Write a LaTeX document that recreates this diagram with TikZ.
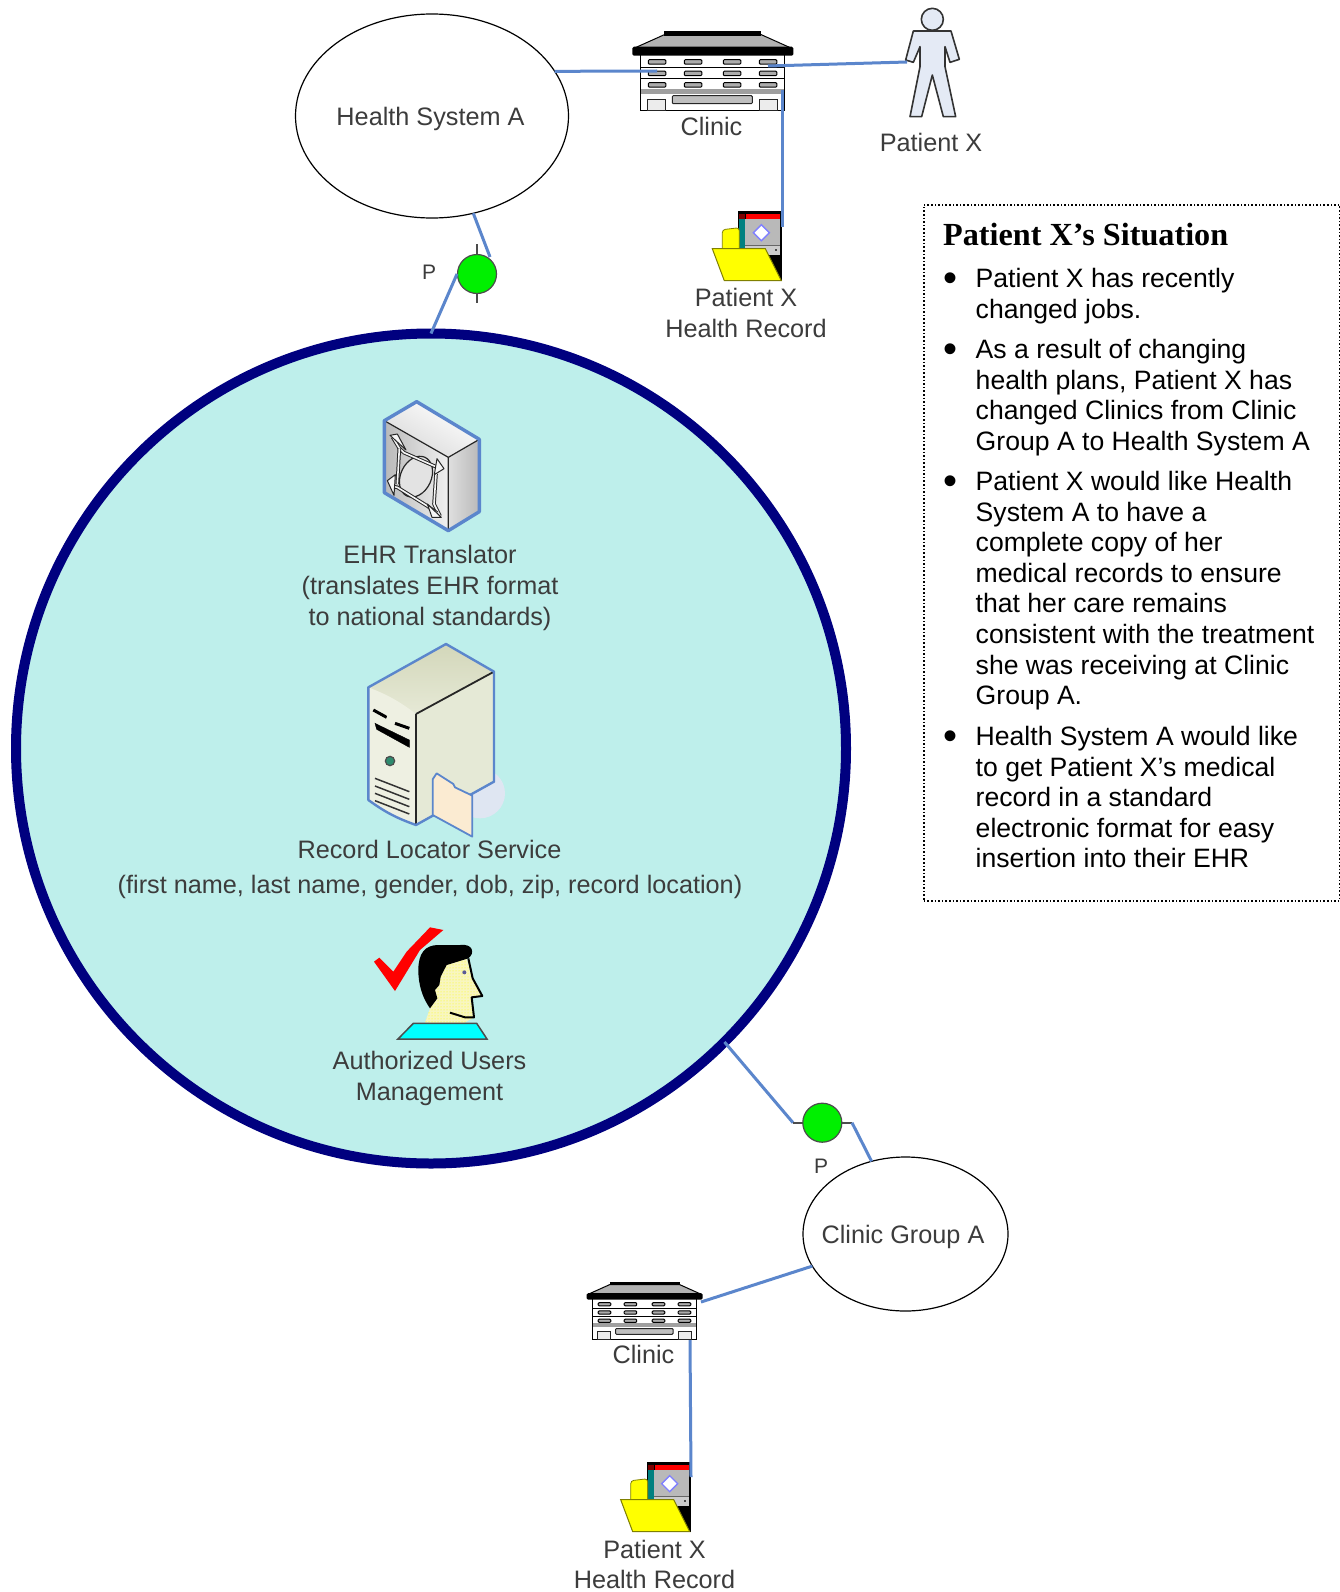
\documentclass[tikz,border=0pt]{standalone}
\usepackage{fontspec}
\setmainfont{Liberation Sans}
\newfontfamily\timesfont{Liberation Serif}
\usetikzlibrary{shapes.geometric,patterns}
\definecolor{conn}{HTML}{5B86CC}
\definecolor{lab}{HTML}{3C3C3C}
\definecolor{aqua}{HTML}{BEEFEB}
\definecolor{navy2}{HTML}{00007F}
\definecolor{ball}{HTML}{00F000}
\definecolor{yel}{HTML}{FFFF00}
\definecolor{cya}{HTML}{00FFFF}
\definecolor{tealx}{HTML}{008080}
\definecolor{redx}{HTML}{FF0000}
\definecolor{drk}{HTML}{7F0000}
\definecolor{olv}{HTML}{808000}
\definecolor{personf}{HTML}{E4EAF5}
\definecolor{srvtop}{HTML}{D3D7BA}
\definecolor{srvtopb}{HTML}{E6E9D6}
\definecolor{srvfront}{HTML}{EEF0E2}
\definecolor{srvright}{HTML}{E5E9D6}
\definecolor{srvshadow}{HTML}{DFE6F2}
\definecolor{fldr}{HTML}{FBEBD2}
\definecolor{facey}{HTML}{F8F6C0}
\definecolor{irisx}{HTML}{5A5A96}
\definecolor{ledx}{HTML}{2E8B6E}
\tikzset{
  x=1pt,y=-1pt,
  connector/.style={draw=conn,line width=3pt},
  stub/.style={draw=black!70,line width=1.6pt},
  lbl/.style={font=\fontsize{25.25}{30.6}\selectfont,text=lab,align=center,inner sep=0pt},
  bodytext/.style={font=\fontsize{26.6}{30.6}\selectfont,text=black,align=left,inner sep=0pt,anchor=north west},
  bulletmark/.style={font=\fontsize{40}{40}\selectfont,text=black,inner sep=0pt},
  bubble/.style={ellipse,draw=black,line width=1.2pt,inner sep=0pt,outer sep=0pt},
  portball/.style={circle,draw=black!70,line width=1.2pt,fill=ball,minimum size=39pt,inner sep=0pt,outer sep=0pt},
  iconbox/.style={inner sep=0pt,outer sep=0pt,anchor=north west,rectangle},
  fanarm/.style={draw=black!85,double=gray!8,double distance=1.6pt,line width=1pt,line join=round},
  fanhead/.style={draw=black!85,fill=gray!8,line width=1pt,line join=round},
  pics/clinicicon/.style={code={
    \fill[white] (8,24) rectangle (152,80);
    \fill[gray!75] (8,58) rectangle (152,63);
    \draw[black,line width=1.2pt] (8,24) -- (8,80) -- (152,80) -- (152,24);
    \draw[black,line width=1pt] (8,37) -- (152,37) (8,48) -- (152,48);
    \foreach \wy in {29,40.5,52}{
      \foreach \wx in {16,52,91,127}{
        \filldraw[fill=gray!65,draw=black,line width=1pt,rounded corners=1pt] (\wx,\wy) rectangle ++(17.5,4.5);
      }
    }
    \filldraw[fill=gray!15,draw=black!85,line width=1pt] (15,69) rectangle (33,80);
    \filldraw[fill=gray!15,draw=black!85,line width=1pt] (127,69) rectangle (145,80);
    \filldraw[fill=gray!50,draw=black!85,line width=1pt,rounded corners=1pt] (40,65) rectangle (120,73);
    \filldraw[fill=gray!60,draw=black,line width=1pt] (32,4) -- (129,4) -- (158,17) -- (3,17) -- cycle;
    \fill[black] (32,0) rectangle (129,5);
    \fill[black,rounded corners=1.5pt] (0,16) rectangle (161,25);
  }},
  pics/foldericon/.style={code={
    \fill[black] (26,0) rectangle (70,70);
    \fill[redx] (34,3) rectangle (68,8);
    \fill[drk] (27,3) rectangle (33,8);
    \fill[tealx] (27,8) rectangle (33,38);
    \fill[gray!55] (33,8) rectangle (68,34);
    \fill[gray!40] (33,35) rectangle (68,44);
    \draw[black!60,line width=.6pt] (33,34.5) -- (68,34.5);
    \fill[black!70] (63,38) rectangle (65,40);
    \filldraw[fill=white,draw=cya!50!magenta,line width=1.4pt] (49,14) -- (57,22) -- (49,30) -- (41,22) -- cycle;
    \filldraw[fill=yel,draw=olv,line width=.8pt,rounded corners=3pt] (10,38) -- (10,19) -- (27,17) -- (27,38);
    \filldraw[fill=yel,draw=olv,line width=1pt] (0,38) -- (53,38) -- (69,70) -- (12,70) -- cycle;
  }},
}
\begin{document}
\begin{tikzpicture}
\useasboundingbox (0,0) rectangle (1340,1592);
\fill[white] (0,0) rectangle (1340,1592);

% big circle
\node[circle,draw=navy2,fill=aqua,line width=10pt,minimum size=830pt,inner sep=0pt,outer sep=0pt] (bigc) at (431,748.5) {};
% bubbles
\node[bubble,minimum width=273pt,minimum height=204pt] (hs) at (432,116) {};
\node[bubble,minimum width=205pt,minimum height=154pt] (cg) at (905.5,1234) {};

% clinic icons
\pic at (632.3,30.7) {clinicicon};
\node[iconbox,minimum width=161pt,minimum height=81pt] (clinicA) at (632.3,30.7) {};
\pic[scale=.72] at (586.7,1281.7) {clinicicon};
\node[iconbox,minimum width=116pt,minimum height=58pt] (clinicB) at (586.7,1281.7) {};

% folder icons
\pic at (712.3,210.7) {foldericon};
\node[iconbox,minimum width=70pt,minimum height=70pt] (folderA) at (712.3,210.7) {};
\pic at (620.7,1461.7) {foldericon};
\node[iconbox,minimum width=70pt,minimum height=70pt] (folderB) at (620.7,1461.7) {};

% patient figure
\begin{scope}[shift={(600,0)},scale=1/3]
\filldraw[fill=personf,draw=black!80,line width=1.6pt,line join=round]
  (940,93) -- (1053,93) -- (1078,178) -- (1050,187) -- (1035,140) -- (1035,200) -- (1067,350) -- (1030,350) -- (997,225) -- (965,350) -- (930,350) -- (960,200) -- (960,140) -- (940,187) -- (917,180) -- cycle;
\filldraw[fill=personf,draw=black!80,line width=1.6pt] (997,58) circle (33);
\end{scope}
\node[iconbox,minimum width=54pt,minimum height=110pt] (patient) at (905,8) {};

% translator icon
\begin{scope}[shift={(340,380)},scale=1/3]
\shade[top color=white,bottom color=gray!30,shading angle=-30] (133,122) -- (230,65) -- (418,178) -- (325,232) -- cycle;
\shade[left color=gray!55,right color=gray!12] (133,122) -- (325,232) -- (325,452) -- (133,338) -- cycle;
\shade[left color=gray!25,right color=gray!55] (325,232) -- (418,178) -- (418,395) -- (325,452) -- cycle;
\draw[black!85,line width=1.2pt] (133,122) -- (325,232) -- (325,452) (325,232) -- (418,178);
\draw[conn,line width=3.4pt,line join=round] (230,65) -- (418,178) -- (418,395) -- (325,452) -- (133,338) -- (133,122) -- cycle;
\filldraw[fill=gray!22,draw=black!85,line width=1.2pt,rotate around={-25:(228,290)}] (228,290) ellipse (46 and 64);
\draw[fanarm] (158,172) -- (178,205) -- (192,218) -- (292,262);
\draw[fanarm] (288,282) -- (282,372) -- (300,408);
\draw[fanarm] (292,400) -- (262,378) -- (172,322) -- (152,318);
\draw[fanarm] (172,312) -- (178,205);
\filldraw[fanhead] (291,236) -- (312,266) -- (283,284) -- cycle;
\filldraw[fanhead] (262,372) -- (304,412) -- (276,412) -- cycle;
\filldraw[fanhead] (166,284) -- (142,302) -- (162,346) -- cycle;
\filldraw[fanhead] (150,166) -- (172,162) -- (198,210) -- cycle;
\end{scope}
\node[iconbox,minimum width=100pt,minimum height=130pt] (translator) at (384,401) {};

% server icon
\begin{scope}[shift={(340,630)},scale=1/3]
\fill[srvshadow] (420,490) circle (75);
\shade[top color=srvtop,bottom color=srvtopb] (85,172) -- (318,42) -- (462,125) -- (228,252) -- cycle;
\fill[srvfront] (85,172) to[bend left=8] (228,252) -- (228,585) to[bend left=8] (85,510) -- cycle;
\fill[srvright] (228,252) -- (462,125) -- (462,455) -- (228,585) -- cycle;
\draw[black!85,line width=1.8pt] (228,252) -- (462,125) (228,252) -- (228,585);
\draw[conn,line width=2.4pt,line join=round] (85,172) -- (318,42) -- (462,125) -- (462,455) -- (228,585) to[bend left=8] (85,510) -- cycle;
\draw[black,line width=3pt] (100,240) -- (140,262) (165,280) -- (208,295);
\filldraw[fill=black,draw=black] (105,280) -- (208,330) -- (208,352) -- (110,298) -- cycle;
\fill[srvfront] (140,255) -- (170,270) -- (150,290) -- cycle;
\filldraw[fill=ledx,draw=black!70,line width=1.2pt] (150,393) circle (14);
\foreach \ly in {445,468,490,512}{\draw[black!80,line width=1.5pt] (105,\ly) -- (208,\ly+40);}
\filldraw[fill=fldr,draw=conn,line width=1.8pt,line join=round] (278,448) -- (290,430) -- (340,462) -- (345,472) -- (397,497) -- (397,620) -- (278,555) -- cycle;
\end{scope}
\node[iconbox,minimum width=140pt,minimum height=190pt] (server) at (366,642) {};

% person with check
\begin{scope}[shift={(350,910)},scale=1/3]
\fill[redx] (72,155) -- (88,143) -- (130,185) -- (170,125) -- (240,52) -- (280,60) -- (210,120) -- (135,243) -- cycle;
\fill[facey] (350,145) -- (365,200) -- (395,258) -- (365,262) -- (372,322) -- (340,340) -- (225,338) -- (240,295) -- (255,240) -- (280,165) -- cycle;
\fill[pattern=dots,pattern color=yel] (350,145) -- (365,200) -- (395,258) -- (365,262) -- (372,322) -- (340,340) -- (225,338) -- (240,295) -- (255,240) -- (280,165) -- cycle;
\fill[black] (205,180) .. controls (205,130) and (225,105) .. (265,105) -- (330,105) .. controls (370,100) and (375,130) .. (355,145) -- (290,165) -- (272,200) -- (268,225) -- (255,240) -- (262,265) -- (240,295) .. controls (215,260) and (205,220) .. (205,180) -- cycle;
\draw[black,line width=2pt,line join=round] (355,145) -- (368,205) -- (397,258) -- (365,262) -- (372,322) -- (345,322) -- (300,308);
\fill[irisx] (343,187) circle (6);
\filldraw[fill=cya,draw=black!70,line width=1.5pt] (190,340) -- (380,340) -- (411,387) -- (144,387) -- cycle;
\end{scope}
\node[iconbox,minimum width=120pt,minimum height=125pt] (authuser) at (372,925) {};

% ports
\coordinate (tickAt) at (477,244);
\coordinate (tickAb) at (477,303);
\node[portball] (portA) at (477,274) {};
\node[portball] (portB) at (822.3,1122.7) {};
\draw[stub] (tickAt) -- (portA.north) (portA.south) -- (tickAb);

% connectors
\coordinate (cAw) at (657,71);
\coordinate (cAe) at (768,66);
\coordinate (pW) at (907,62);
\coordinate (cAs) at (782,90);
\coordinate (fAn) at (782,227);
\coordinate (cBe) at (701,1302);
\coordinate (cBs) at (690,1340);
\coordinate (fBn) at (691,1477);
\coordinate (bendAa) at (490,257);
\coordinate (bendAb) at (457,274);
\coordinate (bendBa) at (793,1122.7);
\coordinate (bendBb) at (852,1122.7);
\draw[connector] (hs.20) -- (cAw);
\draw[connector] (cAe) -- (pW);
\draw[connector] (cAs) -- (fAn);
\draw[connector] (hs.-67.6) -- (bendAa);
\draw[connector] (bendAb) -- (bigc.90);
\draw[connector] (bigc.-45) -- (bendBa);
\draw[stub] (bendBa) -- (portB.west);
\draw[stub] (portB.east) -- (bendBb);
\draw[connector] (bendBb) -- (cg.115.6);
\draw[connector] (cg.199.4) -- (cBe);
\draw[connector] (cBs) -- (fBn);

% labels
\node[lbl] (t1) at (430.5,118.5) {Health System A};
\node[lbl] (t2) at (711.5,126.5) {Clinic};
\node[lbl] (t3) at (931,142) {Patient X};
\node[lbl] (t4) at (746,313) {Patient X\\Health Record};
\node[lbl,font=\fontsize{21}{25}\selectfont] (t5) at (429,272) {P};
\node[lbl] (t6) at (430,588) {EHR Translator\\(translates EHR format\\to national standards)};
\node[lbl] (t7) at (429.5,849.5) {Record Locator Service};
\node[lbl] (t8) at (430,887) {(first name, last name, gender, dob, zip, record location)};
\node[lbl] (t9) at (429.5,1078.5) {Authorized Users\\Management};
\node[lbl] (t10) at (903,1237) {Clinic Group A};
\node[lbl,font=\fontsize{21}{25}\selectfont] (t11) at (821,1166) {P};
\node[lbl] (t12) at (643.5,1354) {Clinic};
\node[lbl] (t13) at (654.5,1564.5) {Patient X\\Health Record};

% situation box
\node[draw=black,line width=1.6pt,dotted,minimum width=416pt,minimum height=696pt,inner sep=0pt,anchor=north west] (sitbox) at (923,204) {};
\node[inner sep=0pt,anchor=west,text=black,font=\timesfont\bfseries\fontsize{32.2}{36}\selectfont] (sittitle) at (943,234.5) {Patient X’s Situation};
\node[bulletmark] (b1) at (950,282) {•};
\node[bodytext] (p1) at (975.5,268) {Patient X has recently\\changed jobs.};
\node[bulletmark] (b2) at (950,353) {•};
\node[bodytext] (p2) at (975.5,339) {As a result of changing\\health plans, Patient X has\\changed Clinics from Clinic\\Group A to Health System A};
\node[bulletmark] (b3) at (950,485) {•};
\node[bodytext] (p3) at (975.5,471) {Patient X would like Health\\System A to have a\\complete copy of her\\medical records to ensure\\that her care remains\\consistent with the treatment\\she was receiving at Clinic\\Group A.};
\node[bulletmark] (b4) at (950,740) {•};
\node[bodytext] (p4) at (975.5,726) {Health System A would like\\to get Patient X’s medical\\record in a standard\\electronic format for easy\\insertion into their EHR};
\end{tikzpicture}
\end{document}
